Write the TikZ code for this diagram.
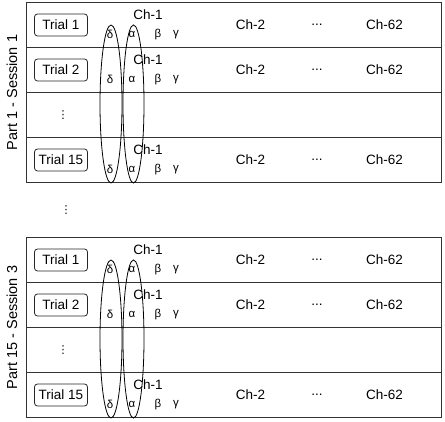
\documentclass[tikz,border=0pt]{standalone}
\usepackage{fontspec}
\setmainfont{Liberation Sans}
\newfontfamily\symfont{DejaVu Sans}
\usetikzlibrary{shapes.geometric}
\begin{document}
\begin{tikzpicture}[x=1pt,y=-1pt,
  trialbox/.style={draw=black!85,line width=0.8pt,rounded corners=3pt,minimum width=53pt,minimum height=22pt,inner sep=0pt,font=\fontsize{13.5}{15}\selectfont},
  lbl/.style={inner sep=0pt,font=\fontsize{13.5}{15}\selectfont},
  sidelbl/.style={inner sep=0pt,rotate=90,font=\fontsize{14.5}{16}\selectfont},
  greek/.style={inner sep=0pt,font=\fontsize{11.5}{13}\selectfont},
  vdotslbl/.style={inner sep=0pt,font=\symfont\fontsize{11}{13}\selectfont},
  rowline/.style={draw=black!80,line width=0.8pt},
  band/.style={ellipse,draw,line width=0.8pt,minimum height=158pt,inner sep=0pt}]
\useasboundingbox (0,0) rectangle (445,422);
\foreach \b/\T/\lab in {A/2.5/Part 1 - Session 1, B/237.5/Part 15 - Session 3}{
  \draw[rowline] (26,\T) rectangle (441,\T+180);
  \foreach \k in {1,2,3}{
    \draw[rowline] (26,\T+45*\k) -- (441,\T+45*\k);
  }
  \node[sidelbl] (\b-label) at (12,\T+90) {\lab};
  \foreach \r/\t in {0/Trial 1,1/Trial 2,3/Trial 15}{
    \node[trialbox] (\b-trial\r) at (61,\T+45*\r+22.5) {\t};
    \node[lbl] (\b-chone\r) at (148,\T+45*\r+12.5) {Ch-1};
    \node[greek] (\b-delta\r) at (110,\T+45*\r+32) {δ};
    \node[greek] (\b-alpha\r) at (132,\T+45*\r+32) {α};
    \node[greek] (\b-beta\r) at (158,\T+45*\r+32) {β};
    \node[greek] (\b-gamma\r) at (176,\T+45*\r+32) {γ};
    \node[lbl] (\b-chtwo\r) at (250.5,\T+45*\r+22.5) {Ch-2};
    \node[lbl] (\b-dots\r) at (317,\T+45*\r+22.5) {...};
    \node[lbl] (\b-chlast\r) at (384.5,\T+45*\r+22.5) {Ch-62};
  }
  \node[vdotslbl] (\b-vdots) at (63,\T+112.5) {⋮};
  \node[band,minimum width=22pt] (\b-deltaband) at (111,\T+101.5) {};
  \node[band,minimum width=21pt] (\b-alphaband) at (133.5,\T+101.5) {};
}
\node[vdotslbl] (midvdots) at (66,210) {⋮};
\end{tikzpicture}
\end{document}
